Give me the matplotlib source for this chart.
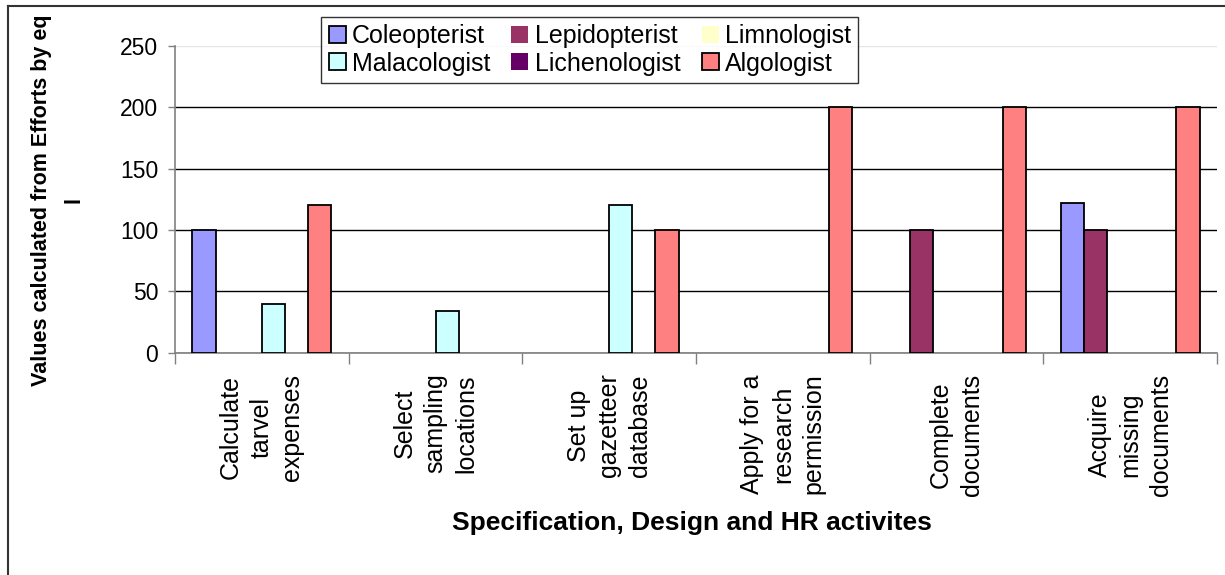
import numpy as np
import matplotlib
matplotlib.use("Agg")
import matplotlib.pyplot as plt
from matplotlib.lines import Line2D

plt.rcParams['font.family'] = ['Liberation Sans', 'DejaVu Sans']

# datos
actividades = ["Calculate\ntarvel\nexpenses", "Select\nsampling\nlocations",
               "Set up\ngazetteer\ndatabase", "Apply for a\nresearch\npermission",
               "Complete\ndocuments", "Acquire\nmissing\ndocuments"]
series = ["Coleopterist", "Lepidopterist", "Limnologist",
          "Malacologist", "Lichenologist", "Algologist"]
coleopterist = [100, 0, 0, 0, 0, 122]
lepidopterist = [0, 0, 0, 0, 100, 100]
limnologist = [0, 0, 0, 0, 0, 0]
malacologist = [40, 34, 120, 0, 0, 0]
lichenologist = [0, 0, 0, 0, 0, 0]
algologist = [120, 0, 100, 200, 200, 200]
valores = [coleopterist, lepidopterist, limnologist, malacologist, lichenologist, algologist]
colores = ["#9999FF", "#993366", "#FFFFCC", "#CCFFFF", "#660066", "#FF8080"]
yticks = [0, 50, 100, 150, 200, 250]

fig = plt.figure(figsize=(12.25, 5.75), dpi=100)
ax = fig.add_axes([175 / 1225, 1 - 352.7 / 575, (1217 - 175) / 1225, (352.7 - 46) / 575])

x = np.arange(len(actividades))
w = 1 / 7.5
barras = []
for i, (nombre, vals, col) in enumerate(zip(series, valores, colores)):
    bordes = ['black' if v > 0 else 'none' for v in vals]
    b = ax.bar(x + (i - 2.5) * w, vals, w, color=col, edgecolor=bordes, linewidth=1.3,
               label=nombre, zorder=3)
    barras.append(b)

ax.set_xlim(-0.5, len(actividades) - 0.5)
ax.set_ylim(0, 250)
ax.set_yticks(yticks)
ax.tick_params(axis='y', labelsize=16.5, length=5, width=1, color='#808080', pad=7)

ax.set_xticks(x)
ax.set_xticklabels(actividades, rotation=90, va='top', ha='center',
                   multialignment='center', fontsize=18, linespacing=1.35)
ax.set_xticks(np.arange(len(actividades) + 1) - 0.5, minor=True)
ax.tick_params(axis='x', which='major', length=0, pad=15)
ax.tick_params(axis='x', which='minor', length=8, width=1, color='#808080')

ax.grid(axis='y', color='black', linewidth=1, zorder=0)
ax.get_ygridlines()[-1].set_color('#e6e6e6')
for s in ['top', 'right']:
    ax.spines[s].set_visible(False)
for s in ['left', 'bottom']:
    ax.spines[s].set_color('#808080')
    ax.spines[s].set_linewidth(1.2)
ax.set_axisbelow(True)

# leyenda en filas (matplotlib llena por columnas)
orden = [0, 3, 1, 4, 2, 5]
h = [barras[k] for k in orden]
l = [series[k] for k in orden]
leg = fig.legend(h, l, ncol=3, loc='upper left', bbox_to_anchor=(321 / 1225, 1 - 17 / 575),
                 fontsize=18, frameon=True, fancybox=False, borderaxespad=0,
                 handlelength=0.68, handleheight=0.68, handletextpad=0.25,
                 columnspacing=0.85, labelspacing=0.12, borderpad=0.3)
leg.get_frame().set_edgecolor('black')
leg.get_frame().set_linewidth(1)
leg.set_zorder(10)

fig.text(58 / 1225, 1 - 200 / 575, "Values calculated from Efforts by eq\nl",
         rotation=90, ha='center', va='center', multialignment='center',
         fontsize=15.5, fontweight='bold', linespacing=1.7)
fig.text(692 / 1225, 1 - 523 / 575, "Specification, Design and HR activites",
         ha='center', va='center', fontsize=19, fontweight='bold')

# borde exterior
fig.add_artist(Line2D([8 / 1225, 8 / 1225], [0, 1 - 6 / 575], color='#333333', lw=1.5,
                      transform=fig.transFigure))
fig.add_artist(Line2D([8 / 1225, 1], [1 - 6 / 575, 1 - 6 / 575], color='#333333', lw=1.5,
                      transform=fig.transFigure))

fig.savefig("out.png", dpi=100)
